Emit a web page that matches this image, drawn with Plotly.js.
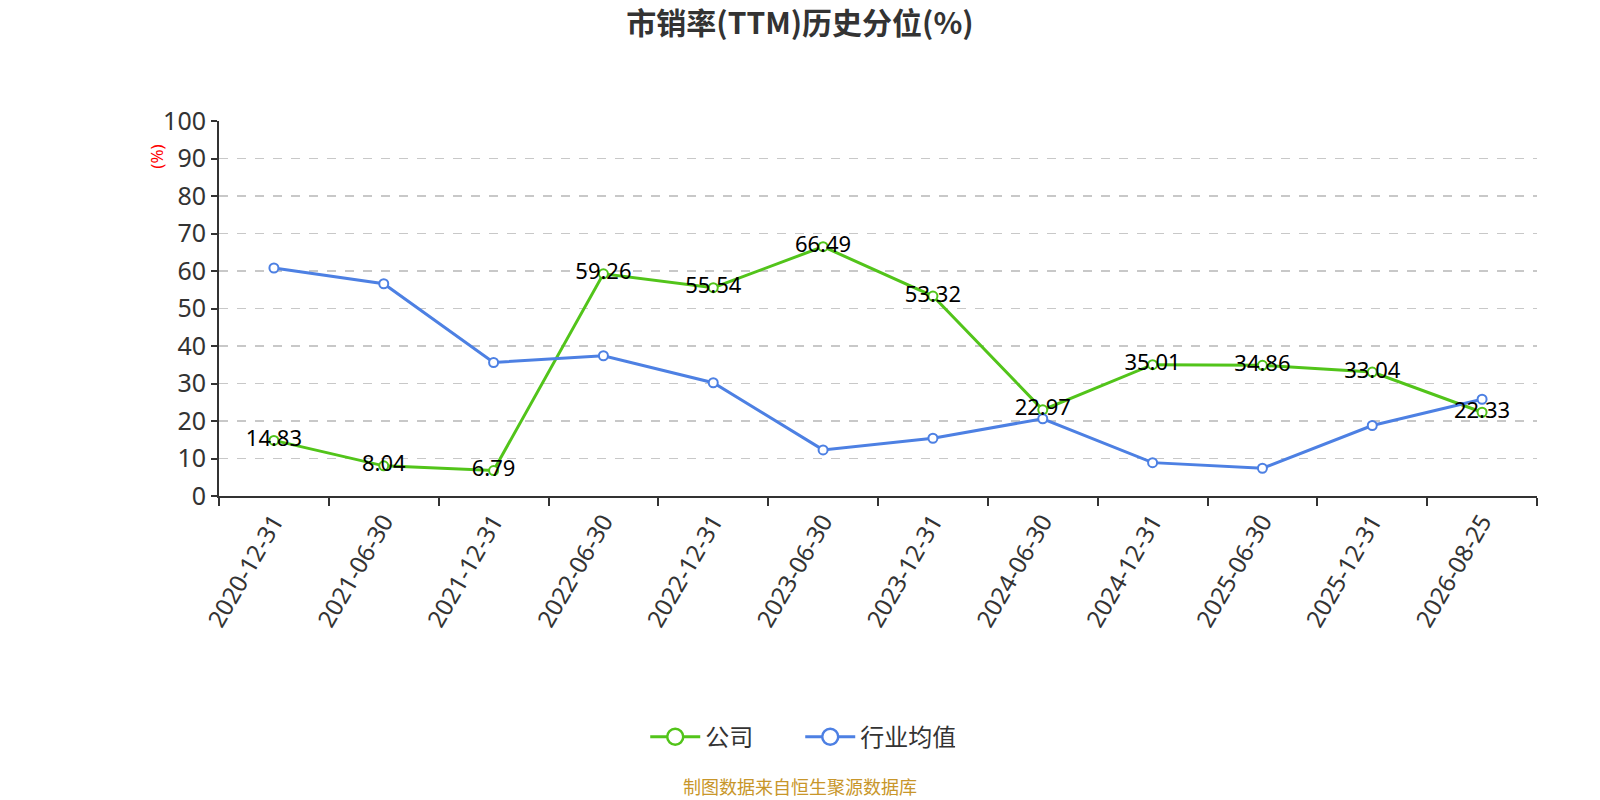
<!DOCTYPE html>
<html>
<head>
<meta charset="utf-8">
<script src="https://cdn.plot.ly/plotly-3.0.1.min.js"></script>
<style>
  html, body { margin: 0; padding: 0; background: #fff; }
  #fig { width: 1600px; height: 800px; }
</style>
</head>
<body>
<div id="fig"></div>
<script>
// report dates (category axis)
var dates = ['2020-12-31', '2021-06-30', '2021-12-31', '2022-06-30', '2022-12-31', '2023-06-30',
             '2023-12-31', '2024-06-30', '2024-12-31', '2025-06-30', '2025-12-31', '2026-08-25'];
// company P/S percentile
var company = [14.83, 8.04, 6.79, 59.26, 55.54, 66.49, 53.32, 22.97, 35.01, 34.86, 33.04, 22.33];
// industry average percentile
var industry = [60.8, 56.6, 35.6, 37.4, 30.2, 12.3, 15.4, 20.6, 8.9, 7.4, 18.8, 25.8];
var yTicks = [0, 10, 20, 30, 40, 50, 60, 70, 80, 90, 100];
var names = ['公司', '行业均值'];

var GREEN = '#52c41a', BLUE = '#4d80e3';
var FONT = '"Noto Sans", "Noto Sans CJK SC", sans-serif';
var CJK = '"Noto Sans CJK SC", "Noto Sans", sans-serif';

var series = [];
series.push({ x: dates, y: company, type: 'scatter', mode: 'lines+markers', name: names[0], showlegend: false,
              line: { color: GREEN, width: 3 },
              marker: { symbol: 'circle', size: 9, color: '#fff', line: { color: GREEN, width: 2 } } });
series.push({ x: dates, y: industry, type: 'scatter', mode: 'lines+markers', name: names[1], showlegend: false,
              line: { color: BLUE, width: 3 },
              marker: { symbol: 'circle', size: 9, color: '#fff', line: { color: BLUE, width: 2 } } });
// value labels for the company line, drawn on top
series.push({ x: dates, y: company, type: 'scatter', mode: 'text', showlegend: false, hoverinfo: 'skip',
              text: company.map(function (v) { return v.toFixed(2); }),
              textposition: 'middle center',
              textfont: { family: FONT, size: 22, color: '#000' } });
// legend entries with the bigger symbol
[GREEN, BLUE].forEach(function (c, i) {
  series.push({ x: [null], y: [null], type: 'scatter', mode: 'lines+markers', name: names[i],
                line: { color: c, width: 3 },
                marker: { symbol: 'circle', size: 16, color: '#fff', line: { color: c, width: 2.5 } } });
});

var layout = {
  width: 1600, height: 800,
  margin: { l: 219, r: 63, t: 121, b: 304 },
  paper_bgcolor: '#fff', plot_bgcolor: '#fff',
  font: { family: FONT, color: '#333' },
  title: { text: '<b>市销率(TTM)历史分位(%)</b>', x: 0.5, xanchor: 'center', y: 0.971, yanchor: 'middle',
           font: { family: CJK, size: 30, color: '#333' } },
  showlegend: true,
  legend: { orientation: 'h', x: 0.441, xanchor: 'center', y: -0.643, yanchor: 'middle',
            font: { family: CJK, size: 24, color: '#333' }, itemwidth: 50,
            entrywidth: 90, entrywidthmode: 'pixels' },
  xaxis: { type: 'category', range: [-0.5, 11.5], tickson: 'boundaries',
           ticks: 'outside', ticklen: 8, tickwidth: 2, tickcolor: '#333',
           showline: true, linecolor: '#333', linewidth: 2, showgrid: false, zeroline: false,
           tickangle: -60, tickfont: { family: FONT, size: 24, color: '#333' } },
  yaxis: { range: [0, 100], tickvals: yTicks, ticks: 'outside', ticklen: 6, tickwidth: 2, tickcolor: '#333',
           showline: true, linecolor: '#333', linewidth: 2, zeroline: false,
           showgrid: true, gridcolor: '#c8c8c8', griddash: 'dash', gridwidth: 1.5,
           tickfont: { family: FONT, size: 25, color: '#333' } },
  annotations: [
    { text: '(%)', xref: 'paper', yref: 'paper', x: -0.047, y: 0.905, xanchor: 'center', yanchor: 'middle',
      showarrow: false, textangle: -90, font: { family: FONT, size: 17, color: 'red' } },
    { text: '制图数据来自恒生聚源数据库', xref: 'paper', yref: 'paper', x: 0.441, y: -0.772,
      xanchor: 'center', yanchor: 'middle', showarrow: false,
      font: { family: CJK, size: 18, color: '#c8962a' } }
  ]
};

Plotly.newPlot('fig', series, layout, { displayModeBar: false, staticPlot: true });
</script>
</body>
</html>
